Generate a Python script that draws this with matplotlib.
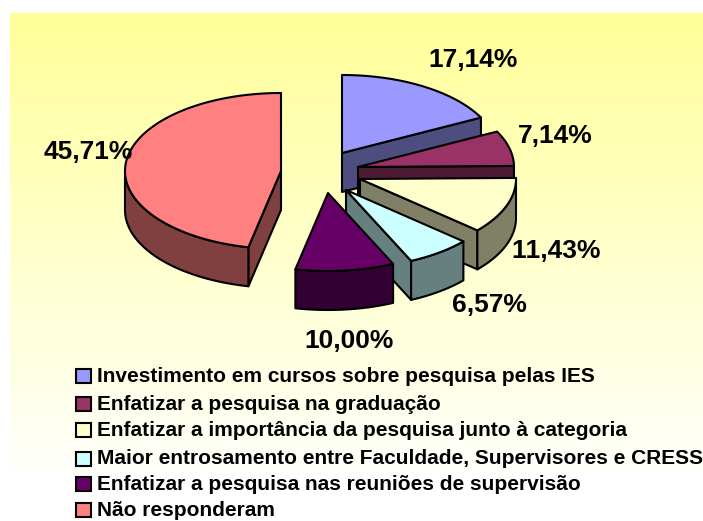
import numpy as np
import matplotlib
matplotlib.use("Agg")
import matplotlib.pyplot as plt
from matplotlib.patches import Rectangle

plt.rcParams["font.family"] = ["Liberation Sans", "DejaVu Sans"]
plt.rcParams["text.kerning_factor"] = 6

# dados
categorias = [
    "Investimento em cursos sobre pesquisa pelas IES",
    "Enfatizar a pesquisa na graduação",
    "Enfatizar a importância da pesquisa junto à categoria",
    "Maior entrosamento entre Faculdade, Supervisores e CRESS",
    "Enfatizar a pesquisa nas reuniões de supervisão",
    "Não responderam",
]
valores = [17.14, 7.14, 11.43, 6.57, 10.00, 45.71]
rotulos = ["17,14%", "7,14%", "11,43%", "6,57%", "10,00%", "45,71%"]

# estilo / layout em pixels
cores = ["#9999FF", "#993366", "#FFFFCC", "#CCFFFF", "#660066", "#FF8080"]
cores_lado = ["#4D4D80", "#4D1A33", "#808066", "#668080", "#330033", "#804040"]
centros = [(342, 153), (358, 167), (360, 179), (346, 190), (328, 193), (281, 171)]
pos_rotulos = [(473, 60), (555, 136), (556, 251), (489, 305), (349, 341), (88, 152)]
y_legenda = [376, 404, 430, 459, 484, 510]
RX, RY, PROF = 156, 78, 39

fig = plt.figure(figsize=(7.03, 5.21), dpi=100)
ax = fig.add_axes([0, 0, 1, 1])
ax.axis("off")

# fundo em degrade
grad = np.linspace(0, 1, 256).reshape(-1, 1)
cmap = matplotlib.colors.LinearSegmentedColormap.from_list("fundo", ["#FFFF99", "#FFFFFC"])
ax.imshow(grad, extent=(10, 703, 475, 13), origin="upper", aspect="auto", cmap=cmap, zorder=0)
ax.set_xlim(0, 703)
ax.set_ylim(521, 0)


def ponto(c, ang):
    # angulo em graus, sentido horario a partir do topo
    a = np.radians(ang)
    return c[0] + RX * np.sin(a), c[1] - RY * np.cos(a)


fatias = np.cumsum([0] + valores) / sum(valores) * 360
z = 2
for i in range(len(valores)):
    t1, t2 = fatias[i], fatias[i + 1]
    c = centros[i]
    kw = dict(ec="black", lw=1.5, joinstyle="round", zorder=z)

    # faces laterais radiais
    if 0 < t2 < 180:
        x, y = ponto(c, t2)
        ax.fill([c[0], x, x, c[0]], [c[1], y, y + PROF, c[1] + PROF], fc=cores_lado[i], **kw)
    if 180 < t1 < 360:
        x, y = ponto(c, t1)
        ax.fill([c[0], x, x, c[0]], [c[1], y, y + PROF, c[1] + PROF], fc=cores_lado[i], **kw)

    # parede externa (so a parte da frente)
    a1, a2 = max(t1, 90), min(t2, 270)
    if a2 > a1:
        th = np.linspace(a1, a2, 60)
        x, y = ponto(c, th)
        ax.fill(np.r_[x, x[::-1]], np.r_[y, y[::-1] + PROF], fc=cores_lado[i], **kw)

    # topo
    th = np.linspace(t1, t2, 120)
    x, y = ponto(c, th)
    ax.fill(np.r_[c[0], x], np.r_[c[1], y], fc=cores[i], **kw)

    ax.text(pos_rotulos[i][0], pos_rotulos[i][1], rotulos[i], fontsize=19, fontweight="bold",
            ha="center", va="center", zorder=20)
    z += 1

# legenda
for nome, cor, y in zip(categorias, cores, y_legenda):
    ax.add_patch(Rectangle((76, y - 7), 15, 14, fc=cor, ec="black", lw=1.5, zorder=5))
    ax.text(97, y, nome, fontsize=15, fontweight="bold", ha="left", va="center", zorder=5)

fig.savefig("out.png", dpi=100)
